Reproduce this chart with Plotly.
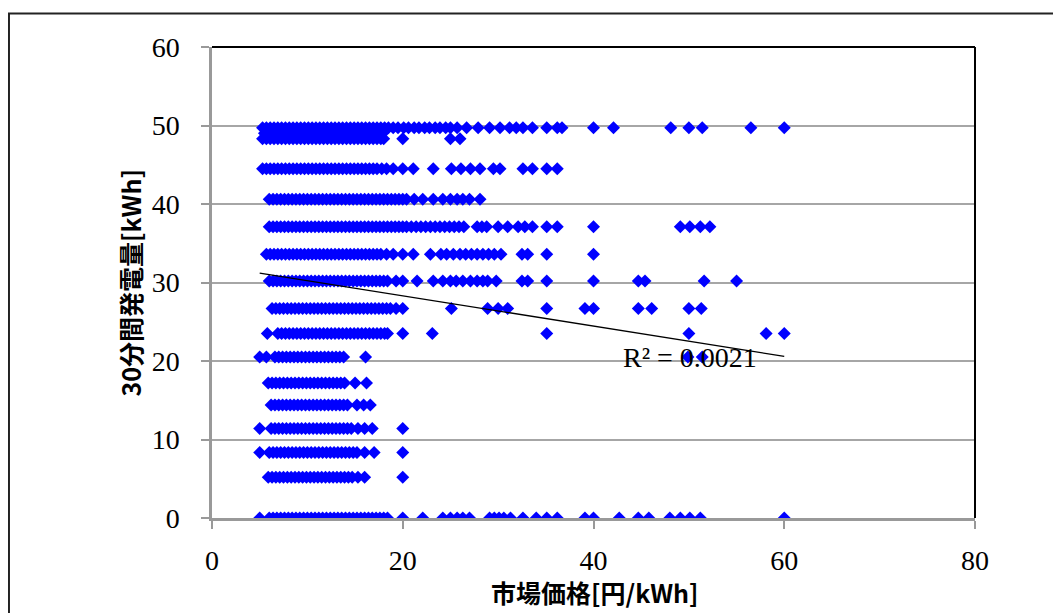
import plotly.graph_objects as go

# y levels (kWh per 30 min) and the market prices observed at each level
levels = [49.7, 49.0, 48.3, 44.5, 40.6, 37.1, 33.6, 30.2, 26.7, 23.5, 20.5, 17.2, 14.4, 11.4, 8.35, 5.2, 0.0]

x_497 = [5.3, 5.7, 6.1, 6.5, 6.9, 7.3, 7.7, 8.1, 8.5, 8.9, 9.3, 9.7, 10.1, 10.5, 10.9, 11.3, 11.7, 12.1, 12.5,
         12.9, 13.3, 13.7, 14.1, 14.5, 14.9, 15.3, 15.7, 16.1, 16.5, 16.9, 17.3, 17.7, 18.1, 18.5, 19.0, 19.5,
         20.1, 20.6, 21.2, 21.7, 22.3, 22.8, 23.4, 23.9, 24.5, 25.0, 25.7, 26.7, 27.9, 29.1, 30.2, 31.2, 31.9,
         32.6, 33.6, 35.1, 36.2, 36.7, 40.0, 42.1, 48.1, 50.0, 51.4, 56.5, 60.0]
x_490 = [5.5, 5.9, 6.3, 6.7, 7.1, 7.5, 7.9, 8.3, 8.7, 9.1, 9.5, 9.9, 10.3, 10.7, 11.1, 11.5, 11.9, 12.3, 12.7,
         13.1, 13.5, 13.9, 14.3, 14.7, 15.1, 15.5, 15.9, 16.3, 16.7, 17.1, 17.5, 17.9]
x_483 = [5.3, 5.7, 6.1, 6.5, 6.9, 7.3, 7.7, 8.1, 8.5, 8.9, 9.3, 9.7, 10.1, 10.5, 10.9, 11.3, 11.7, 12.1, 12.5,
         12.9, 13.3, 13.7, 14.1, 14.5, 14.9, 15.3, 15.7, 16.1, 16.5, 16.9, 17.3, 17.7, 18.0, 20.0, 25.0, 26.0]
x_445 = [5.3, 5.7, 6.1, 6.5, 6.9, 7.3, 7.7, 8.1, 8.5, 8.9, 9.3, 9.7, 10.1, 10.5, 10.9, 11.3, 11.7, 12.1, 12.5,
         12.9, 13.3, 13.7, 14.1, 14.5, 14.9, 15.3, 15.7, 16.1, 16.5, 16.9, 17.3, 17.8, 18.3, 19.0, 20.0, 21.1,
         23.2, 25.1, 26.1, 27.1, 28.1, 29.5, 30.2, 32.6, 33.6, 35.1, 36.2]
x_406 = [6.0, 6.4, 6.8, 7.2, 7.6, 8.0, 8.4, 8.8, 9.2, 9.6, 10.0, 10.4, 10.8, 11.2, 11.6, 12.0, 12.4, 12.8, 13.2,
         13.6, 14.0, 14.4, 14.8, 15.2, 15.6, 16.0, 16.4, 16.8, 17.2, 17.6, 18.0, 18.4, 18.8, 19.2, 19.6, 20.0,
         20.4, 21.2, 22.1, 23.2, 24.2, 25.0, 25.7, 26.3, 27.0, 28.1]
x_371 = [6.0, 6.4, 6.8, 7.2, 7.6, 8.0, 8.4, 8.8, 9.2, 9.6, 10.0, 10.4, 10.8, 11.2, 11.6, 12.0, 12.4, 12.8, 13.2,
         13.6, 14.0, 14.4, 14.8, 15.2, 15.6, 16.0, 16.4, 16.8, 17.2, 17.6, 18.0, 18.4, 18.8, 19.2, 19.6, 20.0,
         20.4, 20.9, 21.4, 21.9, 22.4, 22.9, 23.4, 23.9, 24.4, 24.9, 25.4, 25.9, 26.4, 27.8, 28.3, 28.8, 30.0,
         31.0, 32.1, 32.8, 33.6, 35.1, 36.2, 40.0, 49.1, 50.1, 51.2, 52.2]
x_336 = [5.7, 6.1, 6.5, 6.9, 7.3, 7.7, 8.1, 8.5, 8.9, 9.3, 9.7, 10.1, 10.5, 10.9, 11.3, 11.7, 12.1, 12.5, 12.9,
         13.3, 13.7, 14.1, 14.5, 14.9, 15.3, 15.7, 16.1, 16.5, 16.9, 17.3, 17.7, 18.3, 19.0, 20.0, 21.1, 22.9,
         24.0, 24.6, 25.3, 26.0, 26.6, 27.2, 27.8, 28.4, 29.0, 29.6, 30.3, 32.5, 33.1, 35.1, 40.0]
x_302 = [6.0, 6.4, 6.8, 7.2, 7.6, 8.0, 8.4, 8.8, 9.2, 9.6, 10.0, 10.4, 10.8, 11.2, 11.6, 12.0, 12.4, 12.8, 13.2,
         13.6, 14.0, 14.4, 14.8, 15.2, 15.6, 16.0, 16.4, 16.8, 17.2, 17.6, 18.0, 18.4, 19.3, 20.0, 21.5, 23.2,
         24.2, 25.0, 25.6, 26.3, 27.1, 27.8, 28.4, 28.9, 29.8, 32.5, 33.1, 35.1, 40.0, 44.7, 45.4, 51.6, 55.0]
x_267 = [6.3, 6.7, 7.1, 7.5, 7.9, 8.3, 8.7, 9.1, 9.5, 9.9, 10.3, 10.7, 11.1, 11.5, 11.9, 12.3, 12.7, 13.1, 13.5,
         13.9, 14.3, 14.7, 15.1, 15.5, 15.9, 16.3, 16.7, 17.1, 17.5, 17.9, 18.3, 18.7, 19.3, 20.0, 25.1, 28.9,
         30.0, 31.0, 35.1, 39.1, 40.0, 44.7, 46.1, 50.0, 51.3]
x_235 = [5.8, 6.9, 7.3, 7.7, 8.1, 8.5, 8.9, 9.3, 9.7, 10.1, 10.5, 10.9, 11.3, 11.7, 12.1, 12.5, 12.9, 13.3, 13.7,
         14.1, 14.5, 14.9, 15.3, 15.7, 16.1, 16.5, 16.9, 17.3, 17.7, 18.1, 18.4, 20.0, 23.1, 35.1, 50.0, 58.1,
         60.0]
x_205 = [5.0, 5.7, 6.6, 7.0, 7.4, 7.8, 8.2, 8.6, 9.0, 9.4, 9.8, 10.2, 10.6, 11.0, 11.4, 11.8, 12.2, 12.6, 13.0,
         13.4, 13.8, 16.1, 49.9, 51.4]
x_172 = [5.9, 6.3, 6.7, 7.1, 7.5, 7.9, 8.3, 8.7, 9.1, 9.5, 9.9, 10.3, 10.7, 11.1, 11.5, 11.9, 12.3, 12.7, 13.1,
         13.5, 13.9, 15.0, 16.2]
x_144 = [6.2, 6.6, 7.0, 7.4, 7.8, 8.2, 8.6, 9.0, 9.4, 9.8, 10.2, 10.6, 11.0, 11.4, 11.8, 12.2, 12.6, 13.0, 13.4,
         13.8, 14.2, 15.2, 15.9, 16.6]
x_114 = [5.0, 6.2, 6.6, 7.0, 7.4, 7.8, 8.2, 8.6, 9.0, 9.4, 9.8, 10.2, 10.6, 11.0, 11.4, 11.8, 12.2, 12.6, 13.0,
         13.4, 13.8, 14.2, 14.6, 15.3, 16.0, 16.8, 20.0]
x_084 = [5.0, 6.0, 6.4, 6.8, 7.2, 7.6, 8.0, 8.4, 8.8, 9.2, 9.6, 10.0, 10.4, 10.8, 11.2, 11.6, 12.0, 12.4, 12.8,
         13.2, 13.6, 14.0, 14.4, 14.8, 15.2, 16.0, 17.0, 20.0]
x_052 = [5.9, 6.3, 6.7, 7.1, 7.5, 7.9, 8.3, 8.7, 9.1, 9.5, 9.9, 10.3, 10.7, 11.1, 11.5, 11.9, 12.3, 12.7, 13.1,
         13.5, 13.9, 14.3, 14.7, 15.3, 16.0, 20.0]
x_000 = [5.0, 6.0, 6.4, 6.8, 7.2, 7.6, 8.0, 8.4, 8.8, 9.2, 9.6, 10.0, 10.4, 10.8, 11.2, 11.6, 12.0, 12.4, 12.8,
         13.2, 13.6, 14.0, 14.4, 14.8, 15.2, 15.6, 16.0, 16.4, 16.8, 17.2, 17.6, 18.0, 18.4, 20.0, 22.1, 24.2,
         25.0, 25.7, 26.3, 27.0, 29.1, 29.6, 30.1, 30.6, 31.3, 32.6, 34.0, 35.1, 36.2, 39.1, 40.0, 42.7, 44.7,
         45.8, 48.0, 49.1, 50.1, 51.2, 60.0]

rows = [x_497, x_490, x_483, x_445, x_406, x_371, x_336, x_302, x_267, x_235, x_205, x_172, x_144, x_114,
        x_084, x_052, x_000]

# linear trendline (as reported by the spreadsheet)
trend_slope = -0.193
trend_intercept = 32.17
r2_label = "R² = 0.0021"
r2_pos = (50.1, 20.5)

x_title = "市場価格[円/kWh]"
y_title = "30分間発電量[kWh]"
x_ticks = [0, 20, 40, 60, 80]
y_ticks = [0, 10, 20, 30, 40, 50, 60]

xs, ys = [], []
for lvl, row in zip(levels, rows):
    xs += row
    ys += [lvl] * len(row)

tx = [min(xs), max(xs)]
ty = [trend_slope * v + trend_intercept for v in tx]

fig = go.Figure()
fig.add_trace(go.Scatter(x=xs, y=ys, mode="markers",
                         marker=dict(symbol="diamond", size=10, color="#0000FF", line=dict(width=0)),
                         hoverinfo="skip", showlegend=False))
fig.add_trace(go.Scatter(x=tx, y=ty, mode="lines", line=dict(color="black", width=1.3),
                         hoverinfo="skip", showlegend=False))

serif = "Liberation Serif"
cjk = "Noto Sans CJK JP"

fig.update_layout(
    width=1053, height=605,
    margin=dict(l=204, r=86, t=39, b=95),
    paper_bgcolor="white", plot_bgcolor="white",
    showlegend=False,
    xaxis=dict(range=[0, 80], tickvals=x_ticks, showgrid=False, zeroline=False,
               showline=True, linecolor="#999999", linewidth=2.5,
               ticks="outside", ticklen=8, tickwidth=1.5, tickcolor="#999999",
               tickfont=dict(family=serif, size=28, color="black"), ticklabelstandoff=8),
    yaxis=dict(range=[0, 60], tickvals=y_ticks, showgrid=True, gridcolor="#a6a6a6", gridwidth=1.5,
               zeroline=False, showline=True, linecolor="#999999", linewidth=2.5,
               ticks="outside", ticklen=8, tickwidth=1.5, tickcolor="#999999",
               tickfont=dict(family=serif, size=28, color="black"), ticklabelstandoff=16),
    shapes=[
        dict(type="line", xref="paper", yref="paper", x0=0, x1=1, y0=1, y1=1,
             line=dict(color="black", width=2), layer="above"),
        dict(type="line", xref="paper", yref="paper", x0=1, x1=1, y0=0, y1=1,
             line=dict(color="black", width=2), layer="above"),
        dict(type="rect", xref="paper", yref="paper", x0=-0.2661, x1=1.12, y0=-0.25, y1=1.071,
             line=dict(color="#222222", width=2), layer="above"),
    ],
    annotations=[
        dict(text=r2_label, x=r2_pos[0], y=r2_pos[1], xref="x", yref="y", showarrow=False,
             xanchor="center", yanchor="middle", font=dict(family=serif, size=28, color="black")),
        dict(text="<b>" + x_title + "</b>", x=0.502, y=-0.157, xref="paper", yref="paper",
             showarrow=False, xanchor="center", yanchor="middle",
             font=dict(family=cjk, size=25, color="black")),
        dict(text="<b>" + y_title + "</b>", x=-0.1075, y=0.5, xref="paper", yref="paper",
             showarrow=False, xanchor="center", yanchor="middle", textangle=-90,
             font=dict(family=cjk, size=25, color="black")),
    ],
)

fig.write_html("out.html")
